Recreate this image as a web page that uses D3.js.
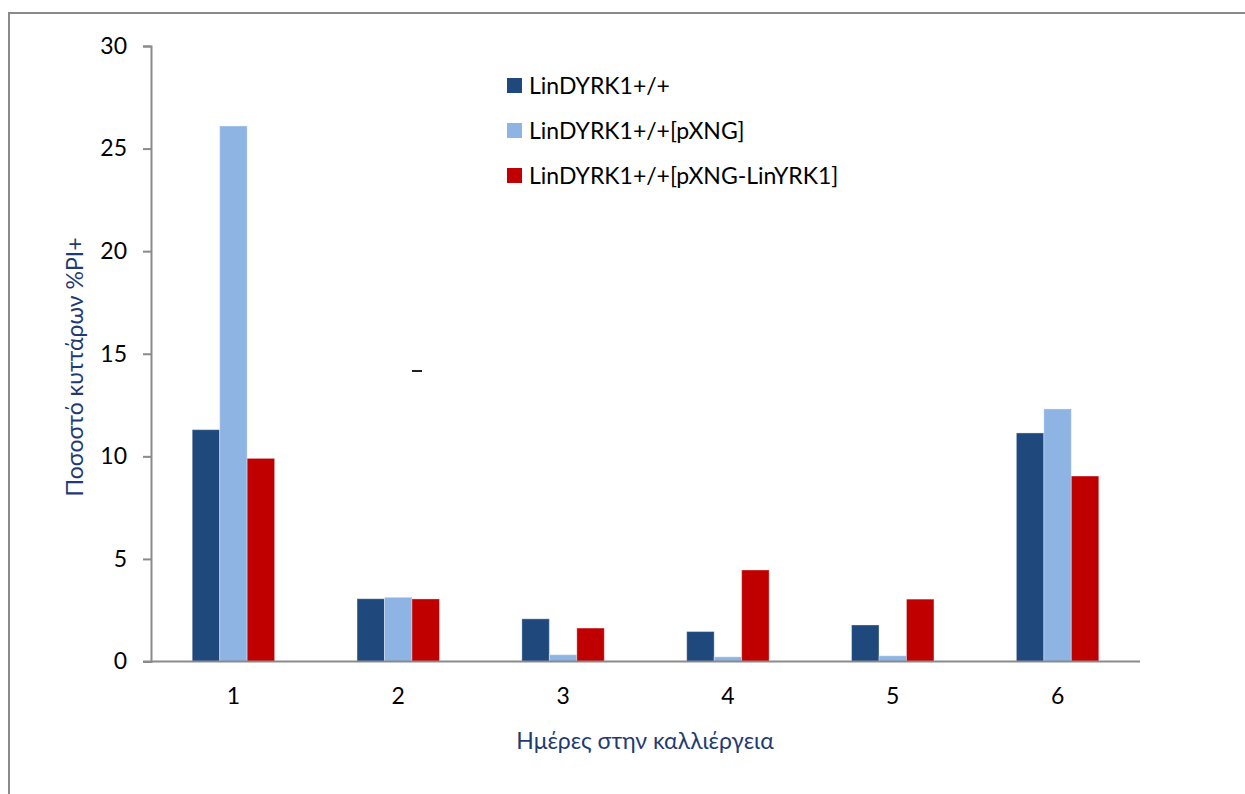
<!DOCTYPE html>
<html>
<head>
<meta charset="utf-8">
<script src="https://cdn.jsdelivr.net/npm/d3@7"></script>
<style>
  html, body { margin: 0; padding: 0; background: #fff; }
  svg { display: block; }
  text { font-family: Lato, "Open Sans", sans-serif; }
</style>
</head>
<body>
<svg id="chart" width="1245" height="794"></svg>
<script>
// Days in culture (category axis)
const days = ["1", "2", "3", "4", "5", "6"];

// Series names
const seriesNames = [
  "LinDYRK1+/+",
  "LinDYRK1+/+[pXNG]",
  "LinDYRK1+/+[pXNG-LinYRK1]"
];

// Percentage of PI+ cells per day for each line
const wildType   = [11.3, 3.06, 2.08, 1.46, 1.78, 11.14];
const withPXNG   = [26.1, 3.13, 0.33, 0.23, 0.28, 12.31];
const withRescue = [9.9, 3.05, 1.63, 4.46, 3.04, 9.04];

const seriesValues = [wildType, withPXNG, withRescue];
const seriesColors = ["#1F497D", "#8EB4E3", "#C00000"];

// Y-axis tick values
const yTicks = [0, 5, 10, 15, 20, 25, 30];

const yTitle = "Ποσοστό κυττάρων %PI+";
const xTitle = "Ημέρες στην καλλιέργεια";

const svg = d3.select("#chart");
const axisColor = "#8A8A8A";

// Outer chart frame
svg.append("rect")
  .attr("x", 9).attr("y", 13)
  .attr("width", 1260).attr("height", 800)
  .attr("fill", "none")
  .attr("stroke", axisColor)
  .attr("stroke-width", 2);

const plot = { left: 151, right: 1140, top: 46, bottom: 661.5 };

const x0 = d3.scaleBand()
  .domain(days)
  .range([plot.left, plot.right])
  .paddingInner(0.5)
  .paddingOuter(0.25);

const x1 = d3.scaleBand()
  .domain(d3.range(seriesNames.length))
  .range([0, x0.bandwidth()]);

const y = d3.scaleLinear()
  .domain([0, 30])
  .range([plot.bottom, plot.top]);

// Bars
const rows = days.map((d, i) => ({ day: d, vals: seriesValues.map(s => s[i]) }));

const groups = svg.append("g").selectAll("g")
  .data(rows)
  .join("g")
  .attr("transform", d => `translate(${x0(d.day)},0)`);

groups.selectAll("rect")
  .data(d => d.vals.map((v, k) => ({ v, k })))
  .join("rect")
  .attr("x", d => x1(d.k))
  .attr("y", d => y(d.v))
  .attr("width", x1.bandwidth())
  .attr("height", d => y(0) - y(d.v))
  .attr("fill", d => seriesColors[d.k])
  .attr("stroke", "rgba(255,255,255,0.35)")
  .attr("stroke-width", 1);

// Y axis
const yAxis = d3.axisLeft(y)
  .tickValues(yTicks)
  .tickSize(8)
  .tickPadding(16)
  .tickFormat(d3.format("d"));

const yg = svg.append("g")
  .attr("transform", `translate(${plot.left},0)`)
  .call(yAxis);
yg.select(".domain").attr("stroke", axisColor).attr("stroke-width", 2);
yg.selectAll(".tick line").attr("stroke", axisColor).attr("stroke-width", 2);
yg.selectAll(".tick text")
  .attr("fill", "#000")
  .style("font-size", "23px")
  .style("font-family", "Lato, sans-serif");

// X axis
const xAxis = d3.axisBottom(x0.copy().paddingInner(0).paddingOuter(0))
  .tickSize(0)
  .tickPadding(26);

const xg = svg.append("g")
  .attr("transform", `translate(0,${plot.bottom})`)
  .call(xAxis);
xg.select(".domain").remove();
xg.append("line")
  .attr("x1", plot.left - 8).attr("x2", plot.right)
  .attr("y1", 0).attr("y2", 0)
  .attr("stroke", axisColor)
  .attr("stroke-width", 2);
xg.selectAll(".tick text")
  .attr("fill", "#000")
  .style("font-size", "23px")
  .style("font-family", "Lato, sans-serif");

// Axis titles
svg.append("text")
  .attr("transform", `translate(83,367) rotate(-90)`)
  .attr("text-anchor", "middle")
  .attr("fill", "#1F3B73")
  .style("font-size", "23px")
  .text(yTitle);

svg.append("text")
  .attr("x", 645).attr("y", 749)
  .attr("text-anchor", "middle")
  .attr("fill", "#1F3B73")
  .style("font-size", "23px")
  .text(xTitle);

// Stray mark inside the plot area
svg.append("line")
  .attr("x1", 412).attr("x2", 422)
  .attr("y1", 371).attr("y2", 371)
  .attr("stroke", "#222")
  .attr("stroke-width", 2);

// Legend
const legend = svg.append("g").attr("transform", "translate(507,78)");
const items = legend.selectAll("g")
  .data(seriesNames)
  .join("g")
  .attr("transform", (d, i) => `translate(0,${i * 45})`);
items.append("rect")
  .attr("width", 15).attr("height", 15)
  .attr("fill", (d, i) => seriesColors[i]);
items.append("text")
  .attr("x", 22).attr("y", 15.5)
  .attr("fill", "#000")
  .style("font-size", "23px")
  .text(d => d);
</script>
</body>
</html>
